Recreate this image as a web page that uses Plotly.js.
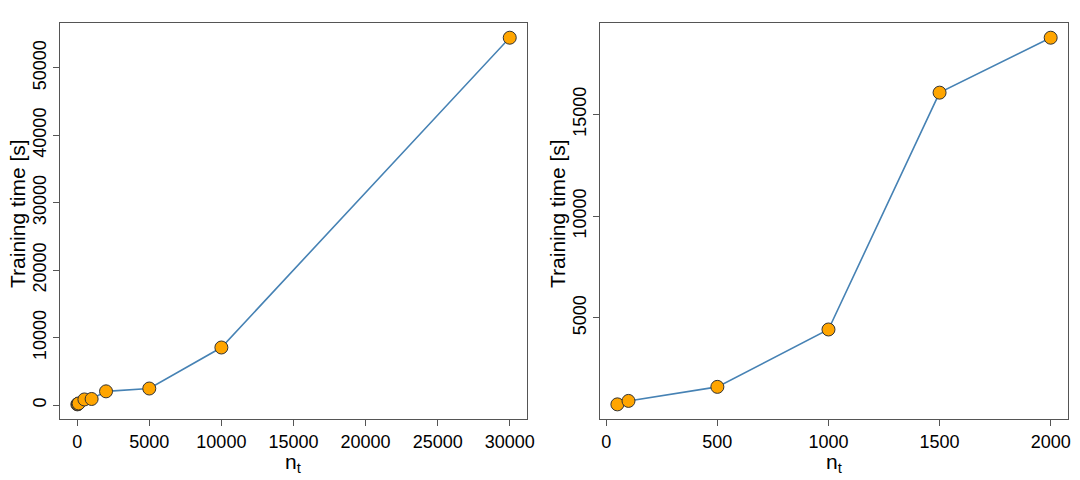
<!DOCTYPE html>
<html>
<head>
<meta charset="utf-8">
<script src="https://cdn.plot.ly/plotly-3.0.1.min.js"></script>
<style>
  html, body { margin: 0; padding: 0; background: #fff; }
  #chart { width: 1080px; height: 480px; }
</style>
</head>
<body>
<div id="chart"></div>
<script>
// left panel: training time vs n_t (wide range)
const leftN = [10, 50, 100, 500, 1000, 2000, 5000, 10000, 30000];
const leftTime = [120, 180, 260, 850, 920, 2050, 2470, 8550, 54470];
const leftXTicks = [0, 5000, 10000, 15000, 20000, 25000, 30000];
const leftYTicks = [0, 10000, 20000, 30000, 40000, 50000];

// right panel: training time vs n_t (small range)
const rightN = [50, 100, 500, 1000, 1500, 2000];
const rightTime = [750, 920, 1610, 4430, 16070, 18770];
const rightXTicks = [0, 500, 1000, 1500, 2000];
const rightYTicks = [5000, 10000, 15000];

const xTitle = 'n<sub>t</sub>';
const yTitle = 'Training time [s]';

const FONT = 'Liberation Sans, Arial, sans-serif';
const W = 1080, H = 480;

function trace(x, y, xa, ya) {
    return {
        x: x, y: y, xaxis: xa, yaxis: ya,
        type: 'scatter', mode: 'lines+markers',
        line: { color: '#4682B4', width: 1.6 },
        marker: { color: '#FFA500', size: 13, line: { color: '#333333', width: 1 } },
        hoverinfo: 'x+y', showlegend: false
    };
}

// R-like padding: 4% on each side
function pad(vals) {
    const lo = Math.min(...vals), hi = Math.max(...vals);
    const d = (hi - lo) * 0.04;
    return [lo - d, hi + d];
}

function axis(domain, ticks, range, isY) {
    return {
        domain: domain,
        range: range,
        tickmode: 'array',
        tickvals: ticks,
        ticktext: ticks.map(String),
        tickangle: isY ? -90 : 0,
        ticks: 'outside', ticklen: 6, tickwidth: 1, tickcolor: '#555',
        showline: true, mirror: true, linecolor: '#555', linewidth: 1,
        showgrid: false, zeroline: false,
        tickfont: { family: FONT, size: 18, color: '#000' }
    };
}

// axis titles placed like R's mtext lines
function label(text, px, py, rot) {
    return {
        text: text, xref: 'paper', yref: 'paper',
        x: px / W, y: 1 - py / H, xanchor: 'center', yanchor: 'middle',
        textangle: rot, showarrow: false,
        font: { family: FONT, size: 21, color: '#000' }
    };
}

const data = [
    trace(leftN, leftTime, 'x', 'y'),
    trace(rightN, rightTime, 'x2', 'y2')
];

const yDom = [0.127, 0.952];
const layout = {
    width: W, height: H,
    paper_bgcolor: '#fff', plot_bgcolor: '#fff',
    margin: { l: 0, r: 0, t: 0, b: 0 },
    font: { family: FONT, color: '#000' },
    xaxis: axis([0.0556, 0.488], leftXTicks, pad(leftN), false),
    yaxis: axis(yDom, leftYTicks, pad(leftTime), true),
    xaxis2: axis([0.5556, 0.9889], rightXTicks, pad(rightN), false),
    yaxis2: axis(yDom, rightYTicks, pad(rightTime), true),
    annotations: [
        label(yTitle, 17, 214, -90),
        label(yTitle, 557, 214, -90),
        label(xTitle, 293, 463, 0),
        label(xTitle, 834, 463, 0)
    ]
};
layout.yaxis.anchor = 'x';
layout.xaxis.anchor = 'y';
layout.xaxis2.anchor = 'y2';
layout.yaxis2.anchor = 'x2';

Plotly.newPlot('chart', data, layout, { displayModeBar: false, staticPlot: true });
</script>
</body>
</html>
